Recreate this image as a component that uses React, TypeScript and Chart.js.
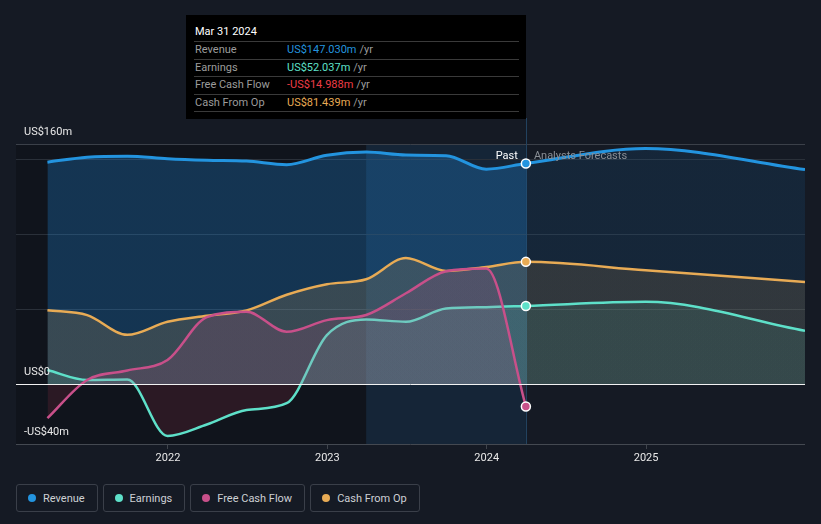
import React, { useEffect, useRef } from 'react';
import { Chart, registerables } from 'chart.js';

Chart.register(...registerables);

// ---------- data ----------
const dates = [
  '2021-03-31', '2021-06-30', '2021-09-30', '2021-12-31',
  '2022-03-31', '2022-06-30', '2022-09-30', '2022-12-31',
  '2023-03-31', '2023-06-30', '2023-09-30', '2023-12-31',
  '2024-03-31', '2024-12-31', '2025-12-31',
];
const revenue = [147.9, 151.2, 151.9, 150.2, 149.2, 148.6, 146.2, 152.5, 154.6, 152.6, 152.2, 143.2, 147.03, 157.0, 143.0];
const earnings = [9.3, 2.7, 3.0, -34.6, -27.0, -17.3, -12.8, 32.6, 43.0, 41.5, 50.4, 51.2, 52.037, 54.8, 35.5];
const freeCashFlow: (number | null)[] = [-22.8, 2.7, 9.0, 16.0, 44.6, 48.1, 34.8, 42.6, 46.0, 60.5, 75.2, 77.0, -14.988, null, null];
const cashFromOp = [49.2, 45.9, 32.8, 41.5, 45.5, 49.0, 59.5, 66.5, 69.8, 84.0, 75.4, 78.0, 81.439, 75.8, 68.0];

const yearTicks = [2022, 2023, 2024, 2025];
const yGridTicks = [-40, 0, 50, 100, 150, 160];
const yLabelTicks = [160, 0, -40];
const axisStart = '2021-01-18';
const axisEnd = '2025-12-31';
const highlightStart = '2023-03-31';
const pastEnd = '2024-03-31';
const tooltipTitle = 'Mar 31 2024';

// ---------- helpers ----------
function toYear(s: string): number {
  const [y, m, d] = s.split('-').map(Number);
  const start = Date.UTC(y, 0, 1);
  const end = Date.UTC(y + 1, 0, 1);
  return y + (Date.UTC(y, m - 1, d) - start) / (end - start);
}
const xs = dates.map(toYear);
const pastIdx = dates.indexOf(pastEnd);

function money(v: number, digits?: number): string {
  if (v === 0) return 'US$0';
  const a = digits === undefined ? String(Math.abs(v)) : Math.abs(v).toFixed(digits);
  return (v < 0 ? '-' : '') + 'US$' + a + 'm';
}

const FONT = 'Roboto, "Noto Sans", sans-serif';

const C = {
  revenue: '#2394df',
  earnings: '#5ee0c9',
  fcf: '#c8508a',
  cfo: '#e8ab55',
};

function splitFill(chart: any, past: string, fore: string): any {
  const a = chart.chartArea;
  const sx = chart.scales && chart.scales.x;
  if (!a || !sx) return past;
  const p = sx.getPixelForValue(toYear(pastEnd));
  const g = chart.ctx.createLinearGradient(a.left, 0, a.right, 0);
  let stop = (p - a.left) / (a.right - a.left);
  stop = Math.min(1, Math.max(0, stop));
  g.addColorStop(0, past);
  g.addColorStop(stop, past);
  g.addColorStop(stop, fore);
  g.addColorStop(1, fore);
  return g;
}

function makeDataset(label: string, data: (number | null)[], color: string, pastFill: string, foreFill: string,
  below: string | null, width: number, order: number) {
  return {
    label,
    data: data.map((v, i) => ({ x: xs[i], y: v })),
    borderColor: color,
    borderWidth: width,
    backgroundColor: (ctx: any) => splitFill(ctx.chart, pastFill, foreFill),
    fill: below ? { target: 'origin', below } : 'origin',
    cubicInterpolationMode: 'monotone',
    pointRadius: (ctx: any) => (ctx.dataIndex === pastIdx ? 4.5 : 0),
    pointHoverRadius: 0,
    pointBackgroundColor: color,
    pointBorderColor: '#ffffff',
    pointBorderWidth: 1.5,
    spanGaps: false,
    order,
  };
}

const decorPlugin = {
  id: 'decor',
  beforeDraw(chart: any) {
    const { ctx, chartArea: a, scales } = chart;
    const hx = scales.x.getPixelForValue(toYear(highlightStart));
    const px = scales.x.getPixelForValue(toYear(pastEnd));
    ctx.save();
    ctx.fillStyle = 'rgba(0,0,0,0.2)';
    ctx.fillRect(a.left, a.top, hx - a.left, a.bottom - a.top);
    ctx.fillStyle = 'rgba(0,0,0,0.06)';
    ctx.fillRect(hx, a.top, px - hx, a.bottom - a.top);
    ctx.fillStyle = 'rgba(33,130,210,0.12)';
    ctx.fillRect(hx, a.top, px - hx, a.bottom - a.top);
    ctx.restore();
  },
  beforeDatasetsDraw(chart: any) {
    const { ctx, chartArea: a, scales } = chart;
    const px = Math.round(scales.x.getPixelForValue(toYear(pastEnd))) + 0.5;
    ctx.save();
    ctx.strokeStyle = '#22425f';
    ctx.lineWidth = 1;
    ctx.beginPath();
    ctx.moveTo(px, a.top - 26);
    ctx.lineTo(px, a.bottom);
    ctx.stroke();
    ctx.restore();
  },
  afterDatasetsDraw(chart: any) {
    const { ctx, chartArea: a, scales } = chart;
    const y0 = Math.round(scales.y.getPixelForValue(0)) + 0.5;
    ctx.save();
    ctx.strokeStyle = '#f2f2f2';
    ctx.lineWidth = 1;
    ctx.beginPath();
    ctx.moveTo(a.left, y0);
    ctx.lineTo(a.right, y0);
    ctx.stroke();

    const px = scales.x.getPixelForValue(toYear(pastEnd));
    ctx.font = '11px ' + FONT;
    ctx.textBaseline = 'middle';
    ctx.textAlign = 'right';
    ctx.fillStyle = '#ffffff';
    ctx.fillText('Past', px - 8, a.top + 12);
    ctx.textAlign = 'left';
    ctx.fillStyle = '#8a8f96';
    ctx.fillText('Analysts Forecasts', px + 8, a.top + 12);
    ctx.restore();
  },
  afterDraw(chart: any) {
    const { ctx, chartArea: a, scales } = chart;
    ctx.save();
    ctx.font = '11px ' + FONT;
    ctx.textBaseline = 'middle';
    ctx.textAlign = 'left';
    ctx.fillStyle = '#e8e8e8';
    yLabelTicks.forEach((v) => {
      ctx.fillText(money(v), a.left + 8, scales.y.getPixelForValue(v) - 11.5);
    });
    ctx.restore();
  },
};

const legendItems = [
  { label: 'Revenue', color: C.revenue },
  { label: 'Earnings', color: C.earnings },
  { label: 'Free Cash Flow', color: C.fcf },
  { label: 'Cash From Op', color: C.cfo },
];

const tooltipRows = [
  { label: 'Revenue', value: revenue[pastIdx], color: '#2394df' },
  { label: 'Earnings', value: earnings[pastIdx], color: '#5ee0c9' },
  { label: 'Free Cash Flow', value: freeCashFlow[pastIdx] as number, color: '#ee3d47' },
  { label: 'Cash From Op', value: cashFromOp[pastIdx], color: '#e8ab55' },
];

export default function App() {
  const ref = useRef<HTMLCanvasElement | null>(null);

  useEffect(() => {
    if (!ref.current) return;
    const chart = new Chart(ref.current, {
      type: 'line',
      data: {
        datasets: [
          makeDataset('Free Cash Flow', freeCashFlow, C.fcf, 'rgba(201,80,138,0.15)', 'rgba(201,80,138,0.1)', 'rgba(170,50,70,0.17)', 2.5, 1),
          makeDataset('Earnings', earnings, C.earnings, 'rgba(94,224,201,0.12)', 'rgba(94,224,201,0.1)', 'rgba(170,50,70,0.17)', 2.5, 2),
          makeDataset('Cash From Op', cashFromOp, C.cfo, 'rgba(232,171,85,0.17)', 'rgba(232,171,85,0.13)', null, 2.5, 3),
          makeDataset('Revenue', revenue, C.revenue, 'rgba(33,150,243,0.25)', 'rgba(33,150,243,0.1)', null, 3, 4),
        ] as any,
      },
      options: {
        responsive: false,
        animation: false,
        events: [],
        layout: { padding: { left: 16, right: 16, top: 144, bottom: 0 } },
        plugins: { legend: { display: false }, tooltip: { enabled: false } },
        scales: {
          x: {
            type: 'linear',
            min: toYear(axisStart),
            max: toYear(axisEnd),
            afterBuildTicks: (s: any) => { s.ticks = yearTicks.map((v) => ({ value: v })); },
            afterFit: (s: any) => { s.height = 26; },
            ticks: {
              color: '#e8e8e8',
              font: { family: FONT, size: 11 },
              padding: 3,
              maxRotation: 0,
              autoSkip: false,
              callback: (v: any) => String(v),
            },
            grid: { drawOnChartArea: false, drawTicks: true, tickLength: 5, color: '#3f444c' },
            border: { display: false },
          },
          y: {
            type: 'linear',
            min: -40,
            max: 160,
            afterBuildTicks: (s: any) => { s.ticks = yGridTicks.map((v) => ({ value: v })); },
            afterFit: (s: any) => { s.width = 0; },
            ticks: { display: false },
            grid: {
              drawTicks: false,
              lineWidth: 1,
              color: (c: any) => {
                const v = c.tick && c.tick.value;
                if (v === 0) return 'rgba(0,0,0,0)';
                if (v === 160) return '#3b4049';
                if (v === -40) return '#444951';
                return '#2a3039';
              },
            },
            border: { display: false },
          },
        },
      } as any,
      plugins: [decorPlugin as any],
    });
    return () => chart.destroy();
  }, []);

  return (
    <div style={{ position: 'fixed', left: 0, top: 0, width: 821, height: 524, background: '#151a24', overflow: 'hidden', fontFamily: FONT }}>
      <canvas ref={ref} width={821} height={470} style={{ position: 'absolute', left: 0, top: 0, width: 821, height: 470 }} />
      <div style={{ position: 'absolute', left: 186, top: 15, width: 340, height: 104, background: '#000', boxSizing: 'border-box', padding: '0 7px 0 8px' }}>
        <div style={{ color: '#fff', fontSize: 11, lineHeight: '18px', paddingTop: 8, paddingLeft: 1, height: 18, borderBottom: '1px solid #3a3a3a' }}>{tooltipTitle}</div>
        {tooltipRows.map((r) => (
          <div key={r.label} style={{ display: 'flex', fontSize: 11, lineHeight: '16.5px', borderBottom: '1px solid #3a3a3a' }}>
            <span style={{ width: 92, paddingLeft: 1, color: '#9c9c9c' }}>{r.label}</span>
            <span style={{ color: r.color }}>{money(r.value, 3)}</span>
            <span style={{ color: '#9c9c9c', marginLeft: 3 }}>/yr</span>
          </div>
        ))}
      </div>
      <div style={{ position: 'absolute', left: 16, top: 484, display: 'flex', gap: 5 }}>
        {legendItems.map((it) => (
          <div key={it.label} style={{ display: 'flex', alignItems: 'center', height: 26, padding: '0 12px 0 11px', border: '1px solid #3a3f49', borderRadius: 3, color: '#cdd0d4', fontSize: 11 }}>
            <span style={{ width: 8, height: 8, borderRadius: 4, background: it.color, marginRight: 7, display: 'inline-block' }} />
            {it.label}
          </div>
        ))}
      </div>
    </div>
  );
}
